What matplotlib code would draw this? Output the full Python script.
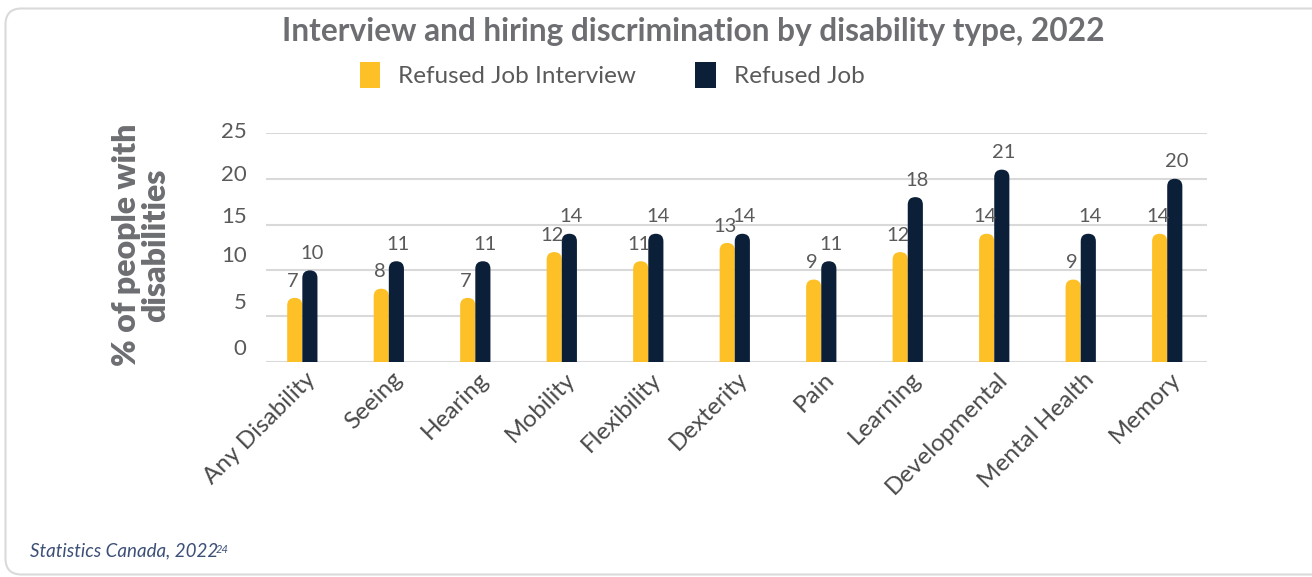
import numpy as np
import matplotlib.pyplot as plt
from matplotlib.patches import FancyBboxPatch, Patch
from matplotlib.transforms import ScaledTranslation

categories = ['Any Disability', 'Seeing', 'Hearing', 'Mobility', 'Flexibility',
              'Dexterity', 'Pain', 'Learning', 'Developmental', 'Mental Health',
              'Memory']
refused_interview = [7, 8, 7, 12, 11, 13, 9, 12, 14, 9, 14]
refused_job = [10, 11, 11, 14, 14, 14, 11, 18, 21, 14, 20]
yticks = [0, 5, 10, 15, 20, 25]

YELLOW = '#FDC127'
NAVY = '#0B1F38'
TITLE_GRAY = '#6D6E71'
TEXT_GRAY = '#5A5A5A'

plt.rcParams['font.family'] = ['Lato', 'DejaVu Sans']

fig = plt.figure(figsize=(13.12, 5.77), dpi=100)

# light card outline behind everything
card = FancyBboxPatch((5.5, 2.5), 1400, 566, boxstyle='round,pad=0,rounding_size=16',
                      transform=None, facecolor='white', edgecolor='#DADADA',
                      linewidth=1.5, zorder=0)
fig.add_artist(card)

ax = fig.add_axes([266/1312, 1 - 362/577, (1207 - 266)/1312, (362 - 133)/577])
ax.set_xlim(-0.42, 10.46)
ax.set_ylim(0, 25)
ax.patch.set_alpha(0)

x = np.arange(len(categories))
w = 0.175

# pixels per data unit, for round bar tops
p0 = ax.transData.transform((0, 0))
p1 = ax.transData.transform((1, 1))
aspect = (p1[0] - p0[0]) / (p1[1] - p0[1])


def rounded_bar(x0, h, color):
    bar = FancyBboxPatch((x0, -3), w, h + 3,
                         boxstyle=f'round,pad=0,rounding_size={w/2}',
                         mutation_aspect=aspect, facecolor=color,
                         edgecolor='none', zorder=3)
    ax.add_patch(bar)


for i in range(len(categories)):
    rounded_bar(x[i] - w, refused_interview[i], YELLOW)
    rounded_bar(x[i], refused_job[i], NAVY)
    ax.annotate(str(refused_interview[i]), (x[i] - w/2 - 0.02, refused_interview[i]),
                xytext=(0, 6), textcoords='offset points', ha='center', va='bottom',
                fontsize=14.5, color=TEXT_GRAY)
    ax.annotate(str(refused_job[i]), (x[i] + w/2 + 0.02, refused_job[i]),
                xytext=(0, 6), textcoords='offset points', ha='center', va='bottom',
                fontsize=14.5, color=TEXT_GRAY)

ax.set_yticks(yticks)
ax.yaxis.grid(True, color='#D9D9D9', linewidth=1.5, zorder=0)
ax.set_axisbelow(True)
ax.tick_params(axis='y', length=0, pad=14, labelsize=16, labelcolor=TEXT_GRAY)
for lab, off in zip(ax.get_yticklabels(), [15, 15, 16, 10, 6, 3]):
    lab.set_transform(lab.get_transform() + ScaledTranslation(0, off/100, fig.dpi_scale_trans))

ax.set_xticks(x)
ax.set_xticklabels(categories, rotation=45, ha='right', va='center',
                   rotation_mode='anchor', fontsize=17.5, color='#4A4A4A')
ax.tick_params(axis='x', length=0, pad=10)
for lab in ax.get_xticklabels():
    lab.set_transform(lab.get_transform() + ScaledTranslation(0.10, 0, fig.dpi_scale_trans))

for s in ax.spines.values():
    s.set_visible(False)

fig.text(0.5286, 0.946, 'Interview and hiring discrimination by disability type, 2022',
         ha='center', va='center', fontsize=22.8, fontweight='bold', color=TITLE_GRAY)

fig.text(0.1075, 0.575, '% of people with\ndisabilities', rotation=90, ha='center',
         va='center', fontsize=23, fontweight='heavy', color=TITLE_GRAY, linespacing=1.0)

handles = [Patch(facecolor=YELLOW, label='Refused Job Interview'),
           Patch(facecolor=NAVY, label='Refused Job')]
leg = fig.legend(handles=handles, loc='center', bbox_to_anchor=(0.4667, 0.87), ncol=2,
                 frameon=False, handlelength=0.85, handleheight=1.25, handletextpad=0.75,
                 columnspacing=2.43, prop={'size': 17.5})
for t in leg.get_texts():
    t.set_color(TEXT_GRAY)

src = fig.text(30/1312, 1 - 551/577, 'Statistics Canada, 2022', ha='left', va='center',
               fontsize=13.5, style='italic', color='#3C4F76')
ann = plt.annotate('24', xy=(1, 1), xycoords=src, xytext=(-1.5, -1), textcoords='offset points',
                   ha='left', va='top', fontsize=8, style='italic', color='#3C4F76',
                   annotation_clip=False)
ann.remove()
fig.add_artist(ann)

fig.savefig('out.png', dpi=100)
